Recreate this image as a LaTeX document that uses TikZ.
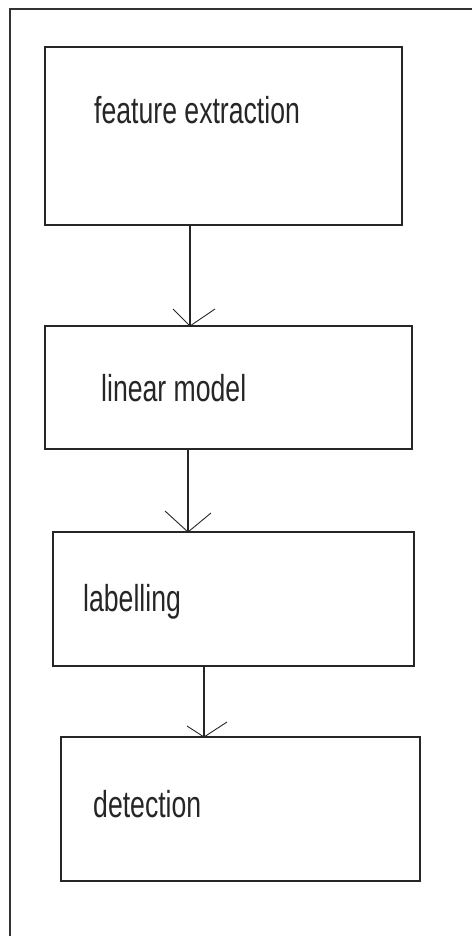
\documentclass[tikz,border=0pt]{standalone}
\usepackage{fontspec}
\newfontfamily\lblfont[FakeStretch=0.71]{Liberation Sans}
\tikzset{
  box/.style={draw=black!85, line width=1.6pt, rectangle, inner sep=0pt, outer sep=0pt, anchor=north west},
  lbl/.style={anchor=base west, inner sep=0pt, text=black!85, font=\lblfont\fontsize{37.5}{40}\selectfont},
  conn/.style={draw=black!85, line width=1.4pt},
  head/.style={draw=black!85, line width=0.9pt}
}
\begin{document}
\begin{tikzpicture}[x=1pt,y=-1pt]
\useasboundingbox (0,0) rectangle (472,936);
\draw[line width=1.6pt, draw=black!80] (472,9) -- (10,9) -- (10,936);
\node[box, minimum width=357, minimum height=178] (b1) at (45,47) {};
\node[box, minimum width=367, minimum height=123] (b2) at (45,326) {};
\node[box, minimum width=361, minimum height=134] (b3) at (53,532) {};
\node[box, minimum width=359, minimum height=144] (b4) at (61,737) {};
\node[lbl] (t1) at (94,124) {feature extraction};
\node[lbl] (t2) at (101,401) {linear model};
\node[lbl] (t3) at (83,611) {labelling};
\node[lbl] (t4) at (93,817) {detection};
\coordinate (x1) at (190,0);
\coordinate (x2) at (188,0);
\coordinate (x3) at (204,0);
\draw[conn] (b1.south -| x1) -- (b2.north -| x1);
\draw[head] (b2.north -| x1) -- ++(-17,-17);
\draw[head] (b2.north -| x1) -- ++(25,-17);
\draw[conn] (b2.south -| x2) -- (b3.north -| x2);
\draw[head] (b3.north -| x2) -- ++(-23,-21);
\draw[head] (b3.north -| x2) -- ++(23,-19);
\draw[conn] (b3.south -| x3) -- (b4.north -| x3);
\draw[head] (b4.north -| x3) -- ++(-17,-11);
\draw[head] (b4.north -| x3) -- ++(23,-15);
\end{tikzpicture}
\end{document}
